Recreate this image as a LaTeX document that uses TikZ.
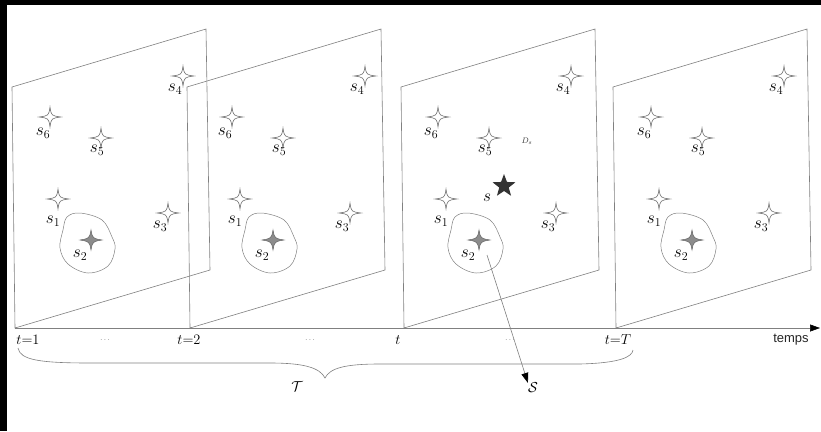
\documentclass[tikz,border=0pt]{standalone}
\usepackage{fontspec}
\newfontfamily\tempsfont{Liberation Sans}
\usetikzlibrary{shapes.geometric,arrows.meta}
\tikzset{
  sparklepic/.pic={\path[draw=black!60, line width=0.55pt, fill=white]
    (0,-10) .. controls (1.3,-1.3) .. (11,0) .. controls (1.3,1.3) .. (0,10)
    .. controls (-1.3,1.3) .. (-11,0) .. controls (-1.3,-1.3) .. cycle;},
  graysparklepic/.pic={\path[draw=black!60, line width=0.5pt, fill=black!45]
    (0,-10) .. controls (1.6,-1.6) .. (11,0) .. controls (1.6,1.6) .. (0,10)
    .. controls (-1.6,1.6) .. (-11,0) .. controls (-1.6,-1.6) .. cycle;},
}
\begin{document}
\begin{tikzpicture}[x=1pt,y=-1pt,
  frame/.style={draw=black!50, line width=0.6pt},
  lbl/.style={inner sep=0pt, text=black, font=\fontsize{15}{18}\selectfont},
  slbl/.style={inner sep=0pt, text=black, font=\fontsize{17.5}{20}\selectfont},
  dotlbl/.style={inner sep=0pt, text=black!85, font=\fontsize{7.5}{9}\selectfont},
  tip/.style={-{Triangle[length=10pt,width=7pt,color=black]}},
]
\useasboundingbox (0,0) rectangle (821,431);
\fill[black] (0,0) rectangle (821,431);
\fill[white] (7,5) rectangle (821,431);

% frames
\foreach \p/\fx in {1/0,2/175,3/389,4/601}{
  \draw[frame] (12+\fx,87) -- (206+\fx,29) -- (210+\fx,270) -- (15+\fx,328) -- cycle;
}

% contents
\foreach \p/\ox in {1/0,2/182,3/388,4/601}{
  \begin{scope}[xshift=\ox]
    \draw[black!50, line width=0.5pt] plot[smooth cycle, tension=0.6] coordinates
      {(67,217) (80,213) (102,220) (112,237) (115,249) (108,266) (88,273) (68,264) (60,248) (63,230)};
    \pic at (183,76) {sparklepic};
    \pic at (50,117) {sparklepic};
    \pic at (101,138) {sparklepic};
    \pic at (58,199) {sparklepic};
    \pic at (168,213) {sparklepic};
    \pic at (91,240) {graysparklepic};
    \node[slbl] (s4-\p) at (175,89) {$s_4$};
    \node[slbl] (s6-\p) at (43,133) {$s_6$};
    \node[slbl] (s5-\p) at (97,150) {$s_5$};
    \node[slbl] (s1-\p) at (53,221) {$s_1$};
    \node[slbl] (s3-\p) at (160,226) {$s_3$};
    \node[slbl] (s2-\p) at (80,255) {$s_2$};
  \end{scope}
}

% extras in panel 3
\node[star, star points=5, star point ratio=2.4, fill=black!80, minimum size=24pt, inner sep=0pt] (bigstar) at (504,186) {};
\node[slbl] (slbl) at (487,198) {$s$};
\node[inner sep=0pt, text=black!80, font=\fontsize{8}{9}\selectfont] (ds) at (527,141) {$D_s$};

% time axis
\coordinate (axstart) at (15,328);
\coordinate (axend) at (820,328);
\draw[frame, tip] (axstart) -- (axend);
\node[lbl] (t1) at (28,340) {$t{=}1$};
\node[dotlbl] (d1) at (105,340) {$\ldots$};
\node[lbl] (t2) at (189,340) {$t{=}2$};
\node[dotlbl] (d2) at (310,340) {$\ldots$};
\node[lbl] (tt) at (398,340) {$t$};
\node[dotlbl] (d3) at (510,340) {$\ldots$};
\node[lbl] (tT) at (618,340) {$t{=}T$};
\node[inner sep=0pt, text=black!85, font=\tempsfont\fontsize{13}{15}\selectfont] (temps) at (791,340) {temps};

% brace
\coordinate (bl) at (18,348);
\coordinate (bm) at (325,378);
\coordinate (br) at (633,350);
\draw[black!50, line width=0.6pt] (bl) .. controls (20,360) and (40,363) .. (90,363) -- (270,363)
  .. controls (305,363) and (320,368) .. (bm)
  .. controls (330,368) and (345,364) .. (380,364) -- (580,364)
  .. controls (620,363) and (632,357) .. (br);
\node[lbl] (calT) at (297,387) {$\mathcal{T}$};

% arrow to S
\coordinate (arrstart) at (487,255);
\node[lbl] (calS) at (533,388) {$\mathcal{S}$};
\draw[frame, tip] (arrstart) -- (calS.north west);
\end{tikzpicture}
\end{document}
